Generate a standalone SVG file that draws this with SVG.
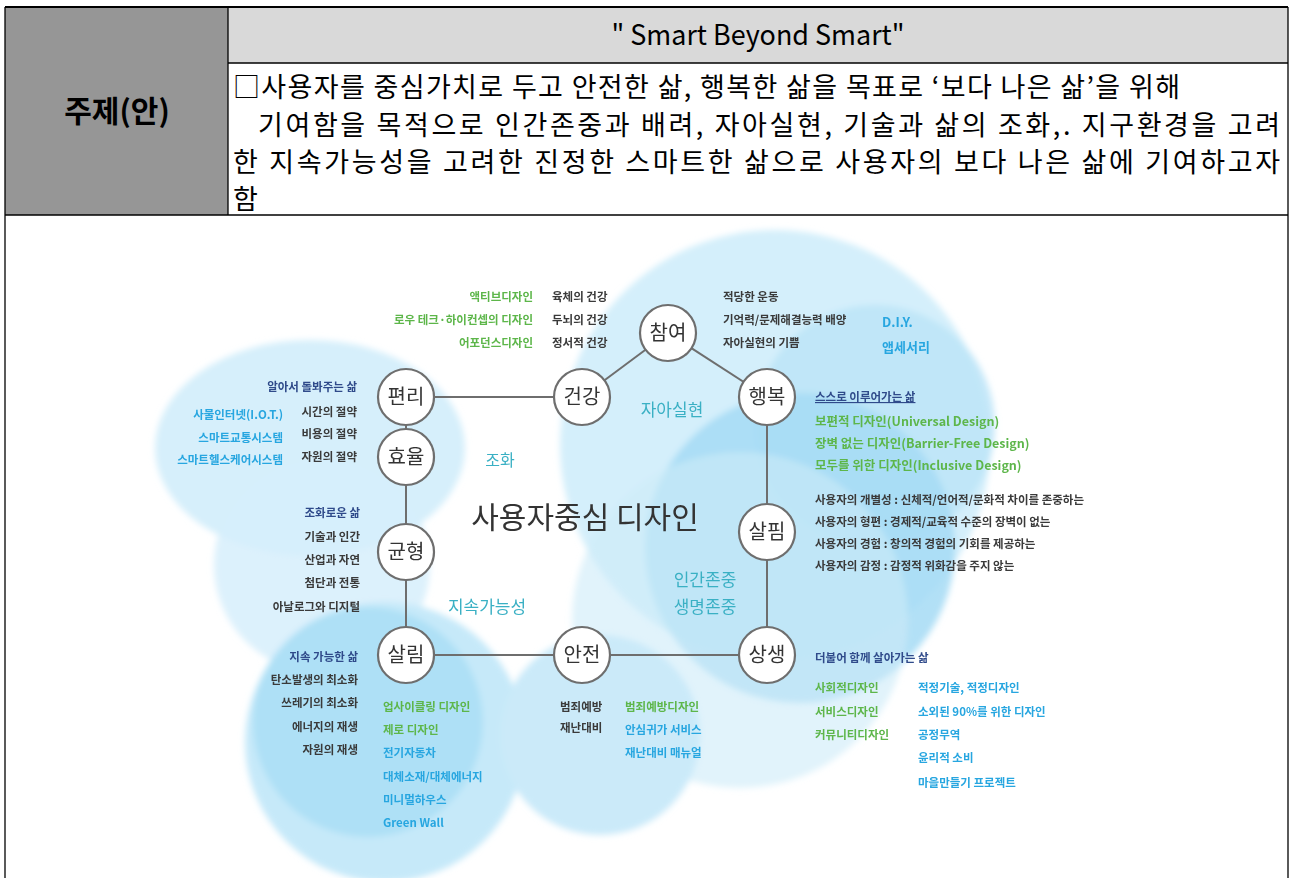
<svg xmlns="http://www.w3.org/2000/svg" width="1290" height="878" viewBox="0 0 1290 878">
<defs>
<filter id="soft" x="-10%" y="-10%" width="120%" height="120%"><feGaussianBlur stdDeviation="3"/></filter>
<style>
.k{font-family:"Noto Sans CJK KR","Noto Sans",sans-serif}
.hd{font-size:27px;fill:#000}
.s{font-family:"Noto Sans CJK KR","Noto Sans",sans-serif;font-size:11.5px;font-weight:bold}
.dk{fill:#3a3a3a}.nv{fill:#2f4a8a}.gr{fill:#5db64a}.bl{fill:#27a6e0}
.nd circle{fill:#fff;stroke:#6e6e6e;stroke-width:2.2}
.nd text{font-family:"Noto Sans CJK KR",sans-serif;font-size:20px;fill:#333;text-anchor:middle}
.big{font-family:"Noto Sans CJK KR",sans-serif;fill:#3ab0c4}
.r{text-anchor:end}
</style>
</defs>
<rect width="1290" height="878" fill="#fff"/>
<!-- table -->
<rect x="5" y="7" width="223" height="208" fill="#969696"/>
<rect x="228" y="7" width="1060" height="56" fill="#d9d9d9"/>
<g stroke="#000" stroke-width="1.3" fill="none">
<line x1="5" y1="7" x2="1288" y2="7" stroke-width="2"/>
<line x1="5" y1="7" x2="5" y2="878"/>
<line x1="1288" y1="7" x2="1288" y2="878"/>
<line x1="228" y1="7" x2="228" y2="215"/>
<line x1="228" y1="63" x2="1288" y2="63"/>
<line x1="5" y1="215" x2="1288" y2="215"/>
</g>
<text class="k" x="758" y="45" font-size="28" text-anchor="middle" textLength="293" lengthAdjust="spacingAndGlyphs">" Smart  Beyond  Smart"</text>
<text class="k" x="117" y="122" font-size="30" font-weight="bold" text-anchor="middle">주제(안)</text>
<text class="k hd" x="233" y="97" textLength="947" lengthAdjust="spacing">□사용자를 중심가치로 두고 안전한 삶, 행복한 삶을 목표로 ‘보다 나은 삶’을 위해</text>
<text class="k hd" x="258" y="135" textLength="1022" lengthAdjust="spacing">기여함을 목적으로 인간존중과 배려, 자아실현, 기술과 삶의 조화,. 지구환경을 고려</text>
<text class="k hd" x="233" y="172" textLength="1047" lengthAdjust="spacing">한 지속가능성을 고려한 진정한 스마트한 삶으로 사용자의 보다 나은 삶에 기여하고자</text>
<text class="k hd" x="233" y="209">함</text>

<!-- background circles -->
<g id="background" filter="url(#soft)">
<circle cx="775" cy="445" r="215" fill="#d4effb"/>
<circle cx="875" cy="425" r="120" fill="#bae4f8" opacity="0.8"/>
<circle cx="800" cy="548" r="155" fill="#a4dbf5" opacity="0.85"/>
<circle cx="740" cy="620" r="168" fill="#cdebf9" opacity="0.6"/>
<ellipse cx="310" cy="448" rx="155" ry="108" fill="#d6effb"/>
<circle cx="322" cy="565" r="108" fill="#d6effb" opacity="0.85"/>
<circle cx="385" cy="742" r="140" fill="#c6e9f9"/>
<circle cx="368" cy="722" r="115" fill="#a4dbf5" opacity="0.7"/>
<circle cx="600" cy="735" r="100" fill="#cbeaf9"/>
</g>

<!-- connectors -->
<g id="connectors" stroke="#6e6e6e" stroke-width="2" fill="none">
<line x1="406" y1="397" x2="582" y2="397"/>
<line x1="582" y1="397" x2="668" y2="333"/>
<line x1="668" y1="333" x2="767" y2="397"/>
<line x1="767" y1="397" x2="767" y2="532"/>
<line x1="767" y1="532" x2="767" y2="655"/>
<line x1="767" y1="655" x2="582" y2="655"/>
<line x1="582" y1="655" x2="406" y2="655"/>
<line x1="406" y1="655" x2="406" y2="552"/>
<line x1="406" y1="552" x2="406" y2="457"/>
<line x1="406" y1="457" x2="406" y2="397"/>
</g>

<!-- nodes -->
<g id="n-pyeonri" class="nd"><circle cx="406" cy="397" r="28"/><text x="406" y="404">편리</text></g>
<g id="n-hyoyul" class="nd"><circle cx="406" cy="457" r="28"/><text x="406" y="464">효율</text></g>
<g id="n-gyunhyeong" class="nd"><circle cx="406" cy="552" r="28"/><text x="406" y="559">균형</text></g>
<g id="n-salrim" class="nd"><circle cx="406" cy="655" r="28"/><text x="406" y="662">살림</text></g>
<g id="n-geongang" class="nd"><circle cx="582" cy="397" r="28"/><text x="582" y="404">건강</text></g>
<g id="n-anjeon" class="nd"><circle cx="582" cy="655" r="28"/><text x="582" y="662">안전</text></g>
<g id="n-chamyeo" class="nd"><circle cx="668" cy="333" r="28"/><text x="668" y="340">참여</text></g>
<g id="n-haengbok" class="nd"><circle cx="767" cy="397" r="28"/><text x="767" y="404">행복</text></g>
<g id="n-salpim" class="nd"><circle cx="767" cy="532" r="28"/><text x="767" y="539">살핌</text></g>
<g id="n-sangsaeng" class="nd"><circle cx="767" cy="655" r="28"/><text x="767" y="662">상생</text></g>

<!-- central labels -->
<g id="center-labels">
<text x="585" y="528" font-family="Noto Sans CJK KR, sans-serif" font-size="30" fill="#333" text-anchor="middle">사용자중심 디자인</text>
<text class="big" x="500" y="466" font-size="16" text-anchor="middle">조화</text>
<text class="big" x="672" y="416" font-size="17" text-anchor="middle">자아실현</text>
<text class="big" x="705" y="586" font-size="17" text-anchor="middle">인간존중</text>
<text class="big" x="705" y="613" font-size="17" text-anchor="middle">생명존중</text>
<text class="big" x="487" y="613" font-size="17" text-anchor="middle">지속가능성</text>
</g>

<!-- health labels -->
<g id="t-health" class="s">
<text class="gr r" x="533" y="301">액티브디자인</text>
<text class="gr r" x="533" y="324">로우 테크·하이컨셉의 디자인</text>
<text class="gr r" x="533" y="347">어포던스디자인</text>
<text class="dk" x="552" y="301">육체의 건강</text>
<text class="dk" x="552" y="324">두뇌의  건강</text>
<text class="dk" x="552" y="347">정서적 건강</text>
</g>
<g id="t-participation" class="s">
<text class="dk" x="723" y="301">적당한 운동</text>
<text class="dk" x="723" y="324">기억력/문제해결능력 배양</text>
<text class="dk" x="723" y="347">자아실현의 기쁨</text>
<text class="bl" x="882" y="327" font-size="13">D.I.Y.</text>
<text class="bl" x="882" y="352" font-size="13">앱세서리</text>
</g>
<g id="t-convenience" class="s">
<text class="nv r" x="357" y="391">알아서 돌봐주는 삶</text>
<text class="dk r" x="357" y="416">시간의 절약</text>
<text class="dk r" x="357" y="438">비용의 절약</text>
<text class="dk r" x="357" y="461">자원의 절약</text>
<text class="bl r" x="283" y="419">사물인터넷(I.O.T.)</text>
<text class="bl r" x="283" y="442">스마트교통시스템</text>
<text class="bl r" x="283" y="464">스마트헬스케어시스템</text>
</g>
<g id="t-balance" class="s">
<text class="nv r" x="360" y="517">조화로운 삶</text>
<text class="dk r" x="360" y="541">기술과 인간</text>
<text class="dk r" x="360" y="564">산업과 자연</text>
<text class="dk r" x="360" y="587">첨단과 전통</text>
<text class="dk r" x="360" y="611">아날로그와 디지털</text>
</g>
<g id="t-salrim" class="s">
<text class="nv r" x="358" y="661">지속 가능한 삶</text>
<text class="dk r" x="358" y="684">탄소발생의 최소화</text>
<text class="dk r" x="358" y="707">쓰레기의 최소화</text>
<text class="dk r" x="358" y="731">에너지의 재생</text>
<text class="dk r" x="358" y="754">자원의 재생</text>
<text class="gr" x="383" y="711">업사이클링 디자인</text>
<text class="gr" x="383" y="734">제로 디자인</text>
<text class="bl" x="383" y="757">전기자동차</text>
<text class="bl" x="383" y="781">대체소재/대체에너지</text>
<text class="bl" x="383" y="804">미니멀하우스</text>
<text class="bl" x="383" y="827">Green Wall</text>
</g>
<g id="t-safety" class="s">
<text class="dk" x="560" y="711">범죄예방</text>
<text class="dk" x="560" y="732">재난대비</text>
<text class="gr" x="625" y="711">범죄예방디자인</text>
<text class="bl" x="625" y="734">안심귀가 서비스</text>
<text class="bl" x="625" y="757">재난대비 매뉴얼</text>
</g>
<g id="t-sangsaeng" class="s">
<text class="nv" x="815" y="662">더불어 함께 살아가는 삶</text>
<text class="gr" x="815" y="692">사회적디자인</text>
<text class="gr" x="815" y="716">서비스디자인</text>
<text class="gr" x="815" y="739">커뮤니티디자인</text>
<text class="bl" x="918" y="692">적정기술, 적정디자인</text>
<text class="bl" x="918" y="716">소외된 90%를 위한 디자인</text>
<text class="bl" x="918" y="739">공정무역</text>
<text class="bl" x="918" y="762">윤리적 소비</text>
<text class="bl" x="918" y="787">마을만들기 프로젝트</text>
</g>
<g id="t-happiness" class="s">
<text class="nv" x="815" y="401" text-decoration="underline">스스로 이루어가는 삶</text>
<text class="gr" x="815" y="426" font-size="12.5">보편적 디자인(Universal Design)</text>
<text class="gr" x="815" y="448" font-size="12.5">장벽 없는 디자인(Barrier-Free Design)</text>
<text class="gr" x="815" y="470" font-size="12.5">모두를 위한 디자인(Inclusive Design)</text>
</g>
<g id="t-salpim" class="s">
<text class="dk" x="815" y="504">사용자의 개별성 : 신체적/언어적/문화적 차이를 존중하는</text>
<text class="dk" x="815" y="526">사용자의 형편 : 경제적/교육적 수준의 장벽이 없는</text>
<text class="dk" x="815" y="548">사용자의 경험 : 창의적 경험의 기회를 제공하는</text>
<text class="dk" x="815" y="570">사용자의 감정 : 감정적 위화감을 주지 않는</text>
</g>
</svg>
